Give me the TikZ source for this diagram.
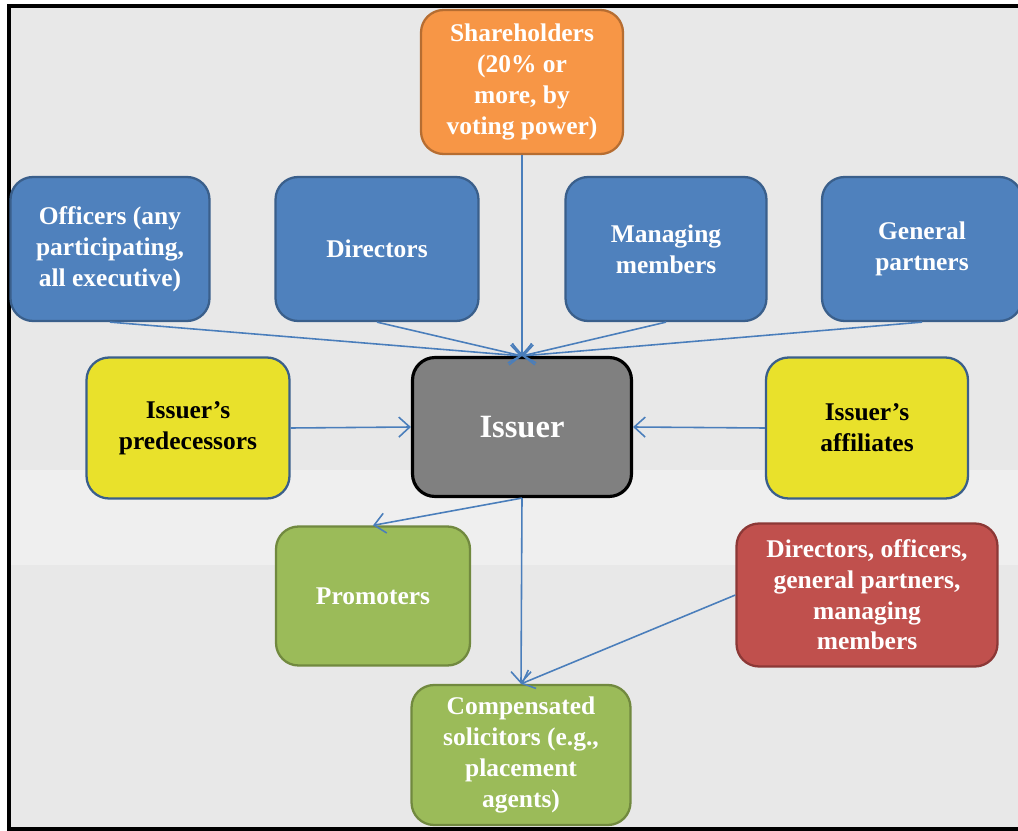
\documentclass[tikz,border=0pt]{standalone}
\usepackage{fontspec}
\setmainfont{Liberation Serif}
\usepackage{xcolor}
\usetikzlibrary{arrows.meta}
\definecolor{bgray}{HTML}{E8E8E8}
\definecolor{bband}{HTML}{EFEFEF}
\definecolor{linkblue}{HTML}{4A7EBB}
\definecolor{bluefill}{HTML}{4F81BD}
\definecolor{blueline}{HTML}{3A5F8B}
\definecolor{orfill}{HTML}{F79646}
\definecolor{orline}{HTML}{B66D31}
\definecolor{yelfill}{HTML}{E9E12B}
\definecolor{grfill}{HTML}{9BBB59}
\definecolor{grline}{HTML}{71893F}
\definecolor{redfill}{HTML}{C0504D}
\definecolor{redline}{HTML}{8C3836}

\begin{document}
\begin{tikzpicture}[x=0.02cm,y=-0.02cm,
    box/.style={rounded corners=0.45cm,align=center,text=white,line width=1.3pt,
      font=\bfseries\fontsize{14.5}{17.5}\selectfont,inner sep=2pt,
      minimum width=4cm,minimum height=2.88cm},
    bluebox/.style={box,fill=bluefill,draw=blueline},
    yelbox/.style={box,fill=yelfill,draw=blueline,text=black,minimum height=2.82cm},
    grbox/.style={box,fill=grfill,draw=grline,minimum height=2.78cm},
    link/.style={draw=linkblue,line width=0.9pt,-{Straight Barb[length=2.2mm,width=4mm]}}]
  \useasboundingbox (0,0) rectangle (1018,831);
  % background and bands
  \fill[bgray] (9,6) rectangle (1018,829);
  \fill[bband] (9,470) rectangle (1018,565);
  \draw[line width=1.8pt] (1018,6) -- (9,6) -- (9,829) -- (1018,829);
  % top row
  \node[box,fill=orfill,draw=orline,minimum width=4.04cm] (sh) at (522,82)
    {Shareholders\\(20\% or\\more, by\\voting power)};
  \node[bluebox,minimum width=3.98cm] (off) at (110,249)
    {Officers (any\\participating,\\all executive)};
  \node[bluebox,minimum width=4.06cm] (dir) at (377,249) {Directors};
  \node[bluebox,minimum width=4.02cm] (man) at (666,249) {Managing\\members};
  \node[bluebox,minimum width=4cm] (gen) at (922,249) {General\\partners};
  % middle row
  \node[yelbox,minimum width=4.06cm] (pre) at (188,428) {Issuer's\\predecessors};
  \node[box,fill=black!50,draw=black,line width=1.8pt,
    minimum width=4.38cm,minimum height=2.78cm,
    font=\bfseries\fontsize{18.5}{22}\selectfont] (iss) at (522,427) {Issuer};
  \node[yelbox,minimum width=4.04cm] (aff) at (867,428) {Issuer's\\affiliates};
  % bottom
  \node[grbox,minimum width=3.88cm] (prom) at (373,596) {Promoters};
  \node[box,fill=redfill,draw=redline,minimum width=5.22cm,minimum height=2.86cm] (red) at (867,595)
    {Directors, officers,\\general partners,\\managing\\members};
  \node[grbox,minimum width=4.38cm,minimum height=2.8cm] (comp) at (521,755)
    {Compensated\\solicitors (e.g.,\\placement\\agents)};
  % connectors
  \foreach \n in {sh,off,dir,man,gen}
    {\draw[link] (\n.south) -- (iss.north);}
  \draw[link] (pre.east) -- (iss.west);
  \draw[link] (aff.west) -- (iss.east);
  \draw[link] (iss.south) -- (prom.north);
  \draw[link] (iss.south) -- (comp.north);
  \draw[link] (red.west) -- (comp.north);
\end{tikzpicture}
\end{document}
